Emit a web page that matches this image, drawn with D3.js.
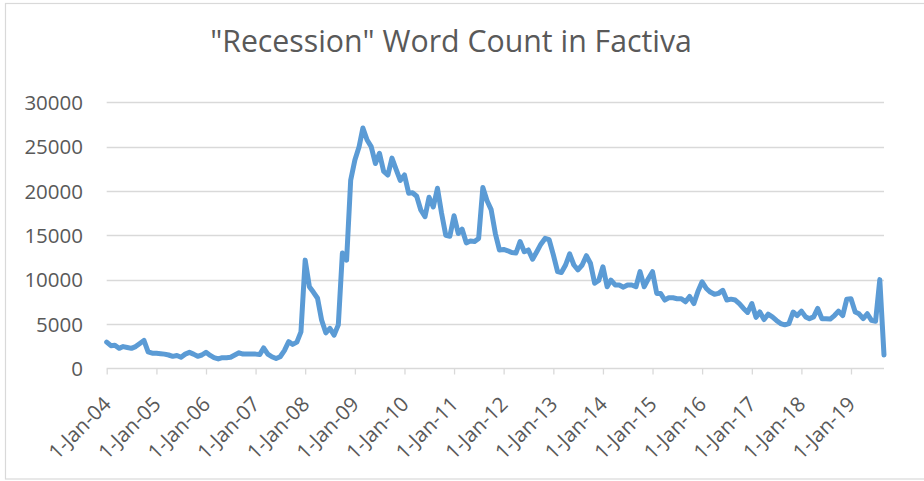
<!DOCTYPE html>
<html>
<head>
<meta charset="utf-8">
<script src="https://cdn.jsdelivr.net/npm/d3@7"></script>
<style>
  html, body { margin: 0; padding: 0; background: #fff; }
  svg { display: block; }
</style>
</head>
<body>
<svg id="chart" width="924" height="481"></svg>
<script>
// ---- data ----
const title = "\"Recession\" Word Count in Factiva";
const startYear = 2004, startMonth = 0; // monthly series starting 1-Jan-04
const values2004 = [2950, 2550, 2600, 2250, 2450, 2350, 2250, 2450, 2800, 3150, 1850, 1700];
const values2005 = [1700, 1650, 1600, 1500, 1350, 1450, 1250, 1600, 1800, 1600, 1350, 1500];
const values2006 = [1800, 1450, 1200, 1050, 1200, 1200, 1250, 1500, 1750, 1600, 1600, 1600];
const values2007 = [1600, 1550, 2300, 1600, 1300, 1100, 1300, 2000, 3000, 2700, 2950, 4100];
const values2008 = [12200, 9200, 8600, 7900, 5450, 4000, 4500, 3750, 4900, 13000, 12200, 21200];
const values2009 = [23500, 25000, 27100, 25750, 25000, 23100, 24250, 22200, 21800, 23700, 22400, 21200];
const values2010 = [21800, 19750, 19800, 19400, 17850, 17100, 19300, 18200, 20300, 17500, 15000, 14900];
const values2011 = [17200, 15200, 15700, 14150, 14350, 14300, 14650, 20400, 18900, 17900, 15200, 13350];
const values2012 = [13400, 13250, 13050, 13000, 14300, 13150, 13350, 12300, 13150, 14000, 14650, 14500];
const values2013 = [12800, 10900, 10800, 11650, 12900, 11650, 11100, 11650, 12700, 11850, 9600, 9900];
const values2014 = [11450, 9200, 9950, 9400, 9400, 9150, 9400, 9400, 9200, 10900, 9200, 10100];
const values2015 = [10900, 8450, 8450, 7700, 7950, 7950, 7850, 7850, 7500, 8100, 7300, 8650];
const values2016 = [9750, 9000, 8600, 8350, 8450, 8800, 7700, 7800, 7700, 7300, 6750, 6300];
const values2017 = [7300, 5750, 6350, 5500, 6100, 5800, 5400, 5050, 4900, 5050, 6350, 5950];
const values2018 = [6450, 5800, 5600, 5800, 6750, 5600, 5600, 5550, 5950, 6450, 5950, 7800];
const values2019 = [7850, 6350, 6150, 5600, 6150, 5400, 5300, 10000, 1500];
const yTicks = [0, 5000, 10000, 15000, 20000, 25000, 30000];
const xTickYears = d3.range(2004, 2020);
const xTickLabel = d3.timeFormat("%-d-%b-%y");

const allValues = [].concat(values2004, values2005, values2006, values2007, values2008,
  values2009, values2010, values2011, values2012, values2013, values2014, values2015,
  values2016, values2017, values2018, values2019);
const series = allValues.map((v, i) => ({ date: new Date(startYear, startMonth + i, 1), value: v }));

// ---- layout ----
const svg = d3.select("#chart");
const textColor = "#595959";
const gridColor = "#D9D9D9";
const fontFam = "'Open Sans', 'Liberation Sans', sans-serif";

const plot = { left: 106.7, right: 884, top: 102.3, bottom: 368.3 };

const x = d3.scaleTime()
  .domain([series[0].date, series[series.length - 1].date])
  .range([plot.left, plot.right]);
const y = d3.scaleLinear().domain([0, 30000]).range([plot.bottom, plot.top]);

// chart border
svg.append("rect")
  .attr("x", 5.5).attr("y", 3.5).attr("width", 940).attr("height", 475.5)
  .attr("fill", "#fff").attr("stroke", gridColor).attr("stroke-width", 1.2);

// title
const titleText = svg.append("text")
  .attr("x", 451).attr("y", 51.5)
  .attr("text-anchor", "middle")
  .attr("fill", textColor)
  .style("font-family", fontFam)
  .style("font-size", "24px")
  .text(title);
{
  const w = titleText.node().getComputedTextLength();
  titleText.style("font-size", (24 * 482 / w) + "px");
}

// gridlines (excluding zero)
svg.append("g")
  .selectAll("line")
  .data(yTicks.filter(d => d > 0))
  .join("line")
  .attr("x1", plot.left).attr("x2", plot.right)
  .attr("y1", d => Math.round(y(d)) + 0.5).attr("y2", d => Math.round(y(d)) + 0.5)
  .attr("stroke", gridColor).attr("stroke-width", 1.3);

// y axis labels
const yAxis = d3.axisLeft(y).tickValues(yTicks).tickSize(0).tickPadding(0).tickFormat(d3.format("d"));
const yg = svg.append("g").attr("transform", "translate(83,0)").call(yAxis);
yg.select(".domain").remove();
yg.selectAll("text")
  .attr("fill", textColor)
  .attr("dy", "0.35em")
  .style("font-family", fontFam)
  .style("font-size", "20.5px");

// x axis
const xAxis = d3.axisBottom(x)
  .tickValues(xTickYears.map(yr => new Date(yr, 0, 1)))
  .tickSize(6).tickSizeOuter(0)
  .tickFormat(xTickLabel);
const xg = svg.append("g")
  .attr("transform", `translate(0,${Math.round(plot.bottom) + 0.5})`)
  .call(xAxis);
xg.select(".domain")
  .attr("d", `M${plot.left},0H${plot.right}`)
  .attr("stroke", gridColor).attr("stroke-width", 1.3);
xg.selectAll(".tick line").attr("stroke", gridColor).attr("stroke-width", 1.3);
xg.selectAll(".tick text")
  .attr("fill", textColor)
  .attr("text-anchor", "end")
  .attr("x", 0).attr("y", 0).attr("dy", 0)
  .attr("transform", "translate(5,37) rotate(-45)")
  .style("font-family", fontFam)
  .style("font-size", "20.5px");

// line
const line = d3.line().x(d => x(d.date)).y(d => y(d.value));
svg.append("path")
  .datum(series)
  .attr("d", line)
  .attr("fill", "none")
  .attr("stroke", "#5B9BD5")
  .attr("stroke-width", 5)
  .attr("stroke-linejoin", "round")
  .attr("stroke-linecap", "round");
</script>
</body>
</html>
